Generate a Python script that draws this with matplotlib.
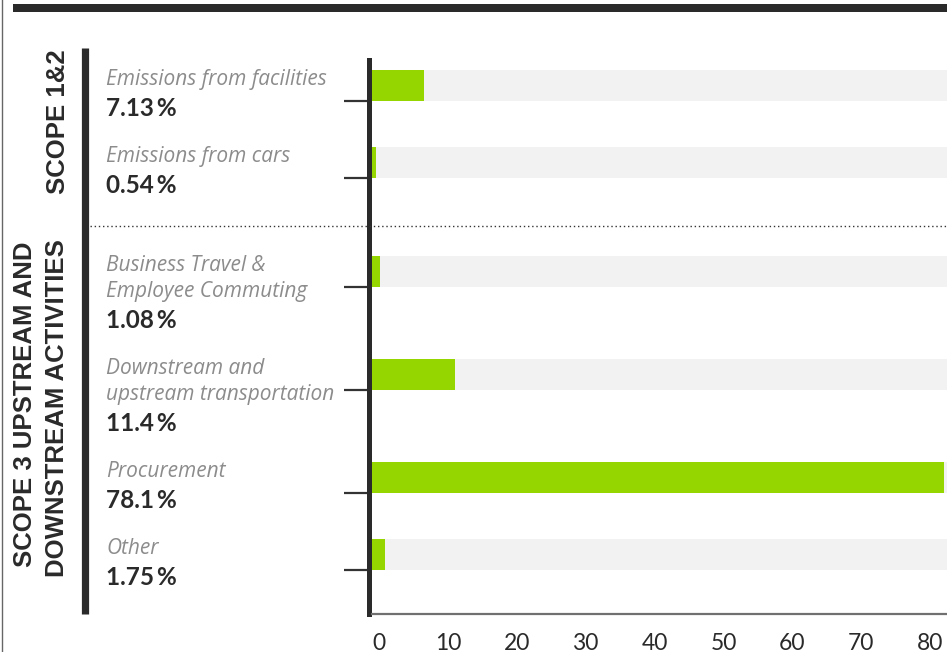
import matplotlib.pyplot as plt
from matplotlib.lines import Line2D
from matplotlib.patches import Rectangle
import matplotlib.transforms as mtransforms

# data
categories = [
    "Emissions from facilities",
    "Emissions from cars",
    "Business Travel &\nEmployee Commuting",
    "Downstream and\nupstream transportation",
    "Procurement",
    "Other",
]
shares = [7.13, 0.54, 1.08, 11.4, 78.1, 1.75]
share_labels = ["7.13\u2009%", "0.54\u2009%", "1.08\u2009%", "11.4\u2009%", "78.1\u2009%", "1.75\u2009%"]
groups = [0, 0, 1, 1, 1, 1]
group_names = ["SCOPE 1&2", "SCOPE 3 UPSTREAM AND\nDOWNSTREAM ACTIVITIES"]
tick_values = [0, 10, 20, 30, 40, 50, 60, 70, 80]

GREEN = "#96d600"
TRACK = "#f2f2f2"
DARK = "#2a2a2a"
GREY_TXT = "#8c8c8c"

W, H = 947, 652


def fx(x):
    return x / W


def fy(y):
    return 1 - y / H


fig = plt.figure(figsize=(W / 100, H / 100), dpi=100)
fig.patch.set_facecolor("white")

# axes area in pixels: left 372, top 60, right 947, bottom 614
ax = fig.add_axes([fx(372), fy(614), fx(947 - 372), (614 - 60) / H])

# vertical layout: one unit = one pixel, step depends on label line count
centers = []
y = 25.5
for i, cat in enumerate(categories):
    if i > 0:
        n_prev = categories[i - 1].count("\n") + 1
        y += 77 + 26 * (n_prev - 1)
        if groups[i] != groups[i - 1]:
            y += 32
    centers.append(y)

x_max = 78.55
bar_h = 31
ax.barh(centers, [x_max] * len(shares), height=bar_h, color=TRACK, zorder=1)
ax.barh(centers, shares, height=bar_h, color=GREEN, zorder=2)

ax.set_xlim(0, x_max)
ax.set_ylim(554, 0)
ax.set_xticks([])
ax.set_yticks([c + bar_h / 2 for c in centers])
ax.set_yticklabels([])
ax.tick_params(axis="y", length=18, width=1.6, color="#333333", direction="out")
for side in ("top", "right"):
    ax.spines[side].set_visible(False)
ax.spines["left"].set_linewidth(3.6)
ax.spines["left"].set_color(DARK)
ax.spines["left"].set_position(("outward", 2.5))
ax.spines["bottom"].set_linewidth(1.6)
ax.spines["bottom"].set_color("#707070")

# value axis labels
ax2 = ax.twiny()
ax2.set_xlim((372 - 379) / 6.89, (947 - 379) / 6.89)
ax2.xaxis.set_ticks_position("bottom")
ax2.xaxis.set_label_position("bottom")
ax2.set_xticks(tick_values)
ax2.set_xticklabels([str(v) for v in tick_values], fontsize=16.5,
                    family="Lato", fontweight="normal", color="#2a2a2a")
ax2.tick_params(axis="x", length=0, pad=13.5)
for s in ax2.spines.values():
    s.set_visible(False)

# category labels
blend = mtransforms.blended_transform_factory(fig.transFigure, ax.transData)
for cat, lab, c in zip(categories, share_labels, centers):
    lines = cat.split("\n")
    for i, line in enumerate(lines):
        ax.text(fx(106), c - 0.5 + 26 * i, line, transform=blend,
                ha="left", va="baseline", fontsize=15, family="Open Sans",
                style="italic", color=GREY_TXT, clip_on=False)
    ax.text(fx(106), c + 30.5 + 26 * (len(lines) - 1), lab, transform=blend,
            ha="left", va="baseline", fontsize=17.5,
            family=["Lato", "DejaVu Sans"], fontweight="bold", color=DARK,
            clip_on=False)

# dotted separator between groups
split = groups.index(1)
sep_y = (centers[split - 1] + centers[split]) / 2 + 9
fig.add_artist(Line2D([fx(90), 1], [fy(60 + sep_y)] * 2, color="#333333",
                      lw=1.0, linestyle=(0, (1, 2))))

# group bracket and group titles
fig.add_artist(Line2D([fx(84.5), fx(84.5)], [fy(48), fy(614)], color=DARK,
                      lw=5.2, solid_capstyle="butt"))
fig.text(fx(58), fy(122), group_names[0], rotation=90, ha="center", va="center",
         fontsize=18.5, family="Liberation Sans", fontweight="bold", color=DARK)
g2 = group_names[1].split("\n")
fig.text(fx(25), fy(404), g2[0], rotation=90, ha="center", va="center",
         fontsize=18.5, family="Liberation Sans", fontweight="bold", color=DARK)
fig.text(fx(57), fy(408), g2[1], rotation=90, ha="center", va="center",
         fontsize=18.5, family="Liberation Sans", fontweight="bold", color=DARK)

# page framing
fig.add_artist(Rectangle((fx(13), fy(12)), 1 - fx(13), 8 / H,
                         transform=fig.transFigure, color=DARK, lw=0))
fig.add_artist(Line2D([fx(2), fx(2)], [0, 1], color="#666666", lw=1.0))

fig.savefig("out.png", dpi=100, facecolor="white")
